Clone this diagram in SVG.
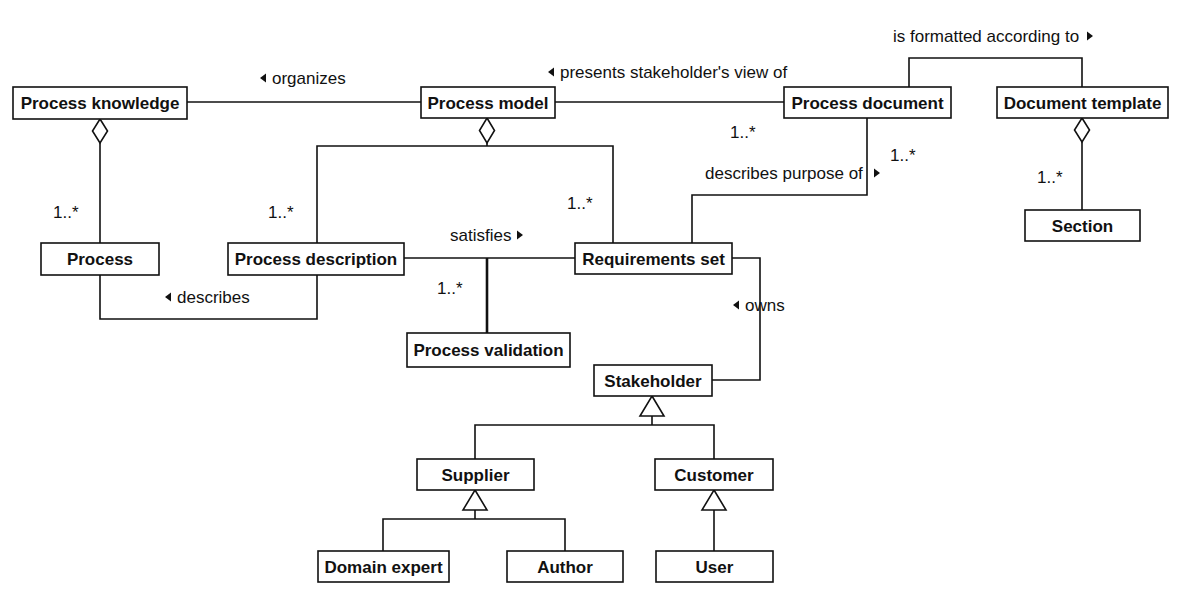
<svg xmlns="http://www.w3.org/2000/svg" width="1188" height="593" viewBox="0 0 1188 593">
<style>
.box{fill:#fff;stroke:#111;stroke-width:1.6}
.bt{font-family:"Liberation Sans",Arial,sans-serif;font-size:17px;font-weight:bold;fill:#111;text-anchor:middle}
.lt{font-family:"Liberation Sans",Arial,sans-serif;font-size:17px;fill:#111}
.ln{fill:none;stroke:#111;stroke-width:1.6}
.dia{fill:#fff;stroke:#111;stroke-width:1.6}
.tri{fill:#111}
</style>
<rect width="1188" height="593" fill="#fff"/>
<g id="connectors">
<path class="ln" d="M187,102 H421"/>
<path class="ln" d="M555,102 H784"/>
<path class="ln" d="M909,87 V58 H1082 V87"/>
<path class="ln" d="M100,143 V243"/>
<path class="ln" d="M487,143 V146 M317,243 V146 H613 V243"/>
<path class="ln" d="M1082,142 V210"/>
<path class="ln" d="M404,258 H575"/>
<path class="ln" d="M487,258 V333" style="stroke-width:2.6"/>
<path class="ln" d="M100,275 V319 H317 V275"/>
<path class="ln" d="M867,118 V195 H692 V243"/>
<path class="ln" d="M732,258 H760 V380 H712"/>
<path class="ln" d="M652,416 V425 M475,459 V425 H714 V459"/>
<path class="ln" d="M475,510 V519 M383,551 V519 H565 V551"/>
<path class="ln" d="M714,510 V551"/>
<polygon class="dia" points="100,119 107.5,131 100,143 92.5,131"/>
<polygon class="dia" points="487,118 494.5,130.5 487,143 479.5,130.5"/>
<polygon class="dia" points="1082,118 1089.5,130 1082,142 1074.5,130"/>
<polygon class="dia" points="652,396 664,416 640,416"/>
<polygon class="dia" points="475,490 487,510 463,510"/>
<polygon class="dia" points="714,490 726,510 702,510"/>
</g>
<g id="labels">
<polygon class="tri" points="260,78 266,73.5 266,82.5"/>
<text class="lt" x="272" y="84">organizes</text>
<polygon class="tri" points="548,72 554,67.5 554,76.5"/>
<text class="lt" x="560" y="78">presents stakeholder's view of</text>
<text class="lt" x="893" y="42">is formatted according to</text>
<polygon class="tri" points="1093,36 1087,31.5 1087,40.5"/>
<text class="lt" x="705" y="179">describes purpose of</text>
<polygon class="tri" points="880,173 874,168.5 874,177.5"/>
<text class="lt" x="450" y="241">satisfies</text>
<polygon class="tri" points="523,235 517,230.5 517,239.5"/>
<polygon class="tri" points="165,297 171,292.5 171,301.5"/>
<text class="lt" x="177" y="303">describes</text>
<polygon class="tri" points="733,305 739,300.5 739,309.5"/>
<text class="lt" x="745" y="311">owns</text>
<text class="lt" x="53" y="218">1..*</text>
<text class="lt" x="268" y="218">1..*</text>
<text class="lt" x="567" y="209">1..*</text>
<text class="lt" x="730" y="138">1..*</text>
<text class="lt" x="890" y="161">1..*</text>
<text class="lt" x="1037" y="183">1..*</text>
<text class="lt" x="437" y="294">1..*</text>
</g>
<g id="process-knowledge"><rect class="box" x="13" y="87" width="174" height="32"/><text class="bt" x="100" y="109">Process knowledge</text></g>
<g id="process-model"><rect class="box" x="421" y="87" width="134" height="31"/><text class="bt" x="488" y="108.5">Process model</text></g>
<g id="process-document"><rect class="box" x="784" y="87" width="167" height="31"/><text class="bt" x="867.5" y="108.5">Process document</text></g>
<g id="document-template"><rect class="box" x="997" y="87" width="171" height="31"/><text class="bt" x="1082.5" y="108.5">Document template</text></g>
<g id="process"><rect class="box" x="41" y="243" width="118" height="32"/><text class="bt" x="100" y="265">Process</text></g>
<g id="process-description"><rect class="box" x="228" y="243" width="176" height="32"/><text class="bt" x="316" y="265">Process description</text></g>
<g id="requirements-set"><rect class="box" x="575" y="243" width="157" height="31"/><text class="bt" x="653.5" y="264.5">Requirements set</text></g>
<g id="section"><rect class="box" x="1025" y="210" width="115" height="31"/><text class="bt" x="1082.5" y="231.5">Section</text></g>
<g id="process-validation"><rect class="box" x="407" y="333" width="163" height="34"/><text class="bt" x="488.5" y="356">Process validation</text></g>
<g id="stakeholder"><rect class="box" x="594" y="365" width="118" height="31"/><text class="bt" x="653" y="386.5">Stakeholder</text></g>
<g id="supplier"><rect class="box" x="417" y="459" width="117" height="31"/><text class="bt" x="475.5" y="480.5">Supplier</text></g>
<g id="customer"><rect class="box" x="655" y="459" width="118" height="31"/><text class="bt" x="714" y="480.5">Customer</text></g>
<g id="domain-expert"><rect class="box" x="318" y="551" width="131" height="31"/><text class="bt" x="383.5" y="572.5">Domain expert</text></g>
<g id="author"><rect class="box" x="507" y="551" width="116" height="31"/><text class="bt" x="565" y="572.5">Author</text></g>
<g id="user"><rect class="box" x="656" y="551" width="117" height="31"/><text class="bt" x="714.5" y="572.5">User</text></g>
</svg>
